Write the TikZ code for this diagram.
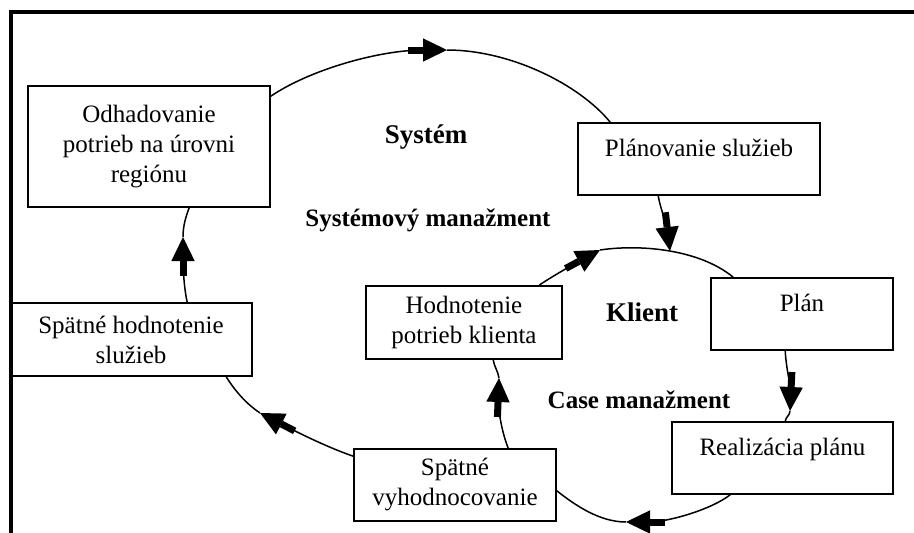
\documentclass[tikz,border=0pt]{standalone}
\usepackage{fontspec}
\setmainfont{Liberation Serif}
\usetikzlibrary{arrows.meta,calc}
\begin{document}
\begin{tikzpicture}[x=1pt,y=-1pt,
  box/.style={draw, line width=1.6pt, inner sep=0pt, align=center,
    font=\fontsize{25}{30}\selectfont},
  topbox/.style={box, text height=33pt, text depth=39pt},
  loopline/.style={line width=1.5pt},
  flow/.style={loopline,
    -{Rectangle[length=15pt,width=7pt,sep=0pt]Triangle[length=24pt,width=23pt,sep=0pt]}},
  heading/.style={anchor=base, inner sep=0pt, font=\fontsize{25}{30}\selectfont\bfseries},
  bigheading/.style={heading, font=\fontsize{27}{32}\selectfont\bfseries},
]
\useasboundingbox (0,0) rectangle (914,533);

% page frame (top and left rules)
\draw[line width=3.5pt, line join=miter] (914,12) -- (10.8,12) -- (10.8,533);

% process boxes
\node[box, minimum width=242pt, minimum height=121pt] (odh) at (149,146.5)
  {Odhadovanie\\potrieb na úrovni\\regiónu};
\node[topbox, minimum width=242pt] (plsl) at (699,159) {Plánovanie služieb};
\node[topbox, minimum width=182pt] (plan) at (802,314) {Plán};
\node[topbox, minimum width=221pt] (real) at (782.5,458) {Realizácia plánu};
\node[box, minimum width=202pt, minimum height=72pt] (spv) at (455,485)
  {Spätné\\vyhodnocovanie};
\node[box, minimum width=196pt, minimum height=73pt] (hodk) at (464,322.5)
  {Hodnotenie\\potrieb klienta};
\node[box, minimum width=242pt, minimum height=73pt] (sphs) at (131,339.5)
  {Spätné hodnotenie\\služieb};

% headings of the two cycles
\node[bigheading] (lsys) at (426,143) {Systém};
\node[heading] (lsysm) at (428,226) {Systémový manažment};
\node[bigheading] (lkl) at (642,321) {Klient};
\node[heading] (lcase) at (639,408) {Case manažment};

% arrow positions on the cycles
\coordinate (k1) at (447,50);
\coordinate (k2) at (670,251);
\coordinate (k3) at (790,411);
\coordinate (k4) at (626,522);
\coordinate (k5) at (499,378);
\coordinate (k6) at (600,250);
\coordinate (k7) at (260,413);
\coordinate (k8) at (183,237);

% outer cycle: system level
\draw[flow] ($(odh.north east)+(0,11)$) .. controls +(40,-27) and +(-67,0) .. (k1);
\draw[loopline] (k1) .. controls +(63,0) and +(-31,-38) .. ($(plsl.north west)+(33,0)$);
\draw[flow] ($(plsl.south west)+(81,0)$) .. controls +(2,12) and +(-3,-25) .. (k2);
\draw[flow] ($(spv.north west)+(0,8)$) .. controls +(-29,-10) and +(31,16) .. (k7);
\draw[loopline] (k7) .. controls +(-12,-8) and +(10,16) .. ($(sphs.south west)+(217,0)$);
\draw[flow] ($(sphs.north west)+(178,0)$) .. controls +(-4,-18) and +(0,23) .. (k8);
\draw[loopline] (k8) .. controls +(0,-12) and +(-3,8) .. ($(odh.south west)+(162,0)$);

% inner cycle: client level
\draw[flow] ($(hodk.north west)+(174,0)$) .. controls +(10,-7) and +(-26,14) .. (k6);
\draw[loopline] (k6) .. controls +(40,-6) and +(-34,-28) .. ($(plan.north west)+(23,0)$);
\draw[flow] ($(plan.south west)+(75,0)$) .. controls +(1,18) and +(1,-21) .. (k3);
\draw[loopline] (k3) .. controls +(-0.5,5) and +(1,-5) .. ($(real.north west)+(114,0)$);
\draw[flow] ($(real.south west)+(59,0)$) .. controls +(-21,16) and +(40,0) .. (k4);
\draw[loopline] (k4) .. controls +(-26,0) and +(19,15) .. ($(spv.south east)+(0,-31)$);
\draw[flow] ($(spv.north west)+(155,0)$) .. controls +(-8,-20) and +(-1,25) .. (k5);
\draw[loopline] (k5) .. controls +(-1,-7) and +(1,7) .. ($(hodk.south west)+(128,0)$);
\end{tikzpicture}
\end{document}
